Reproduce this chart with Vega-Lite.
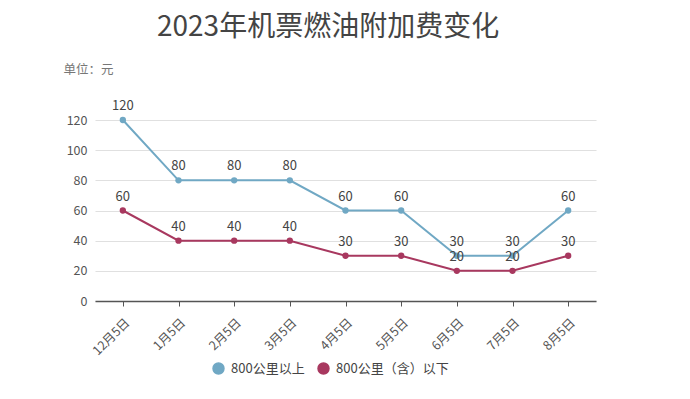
{
  "$schema": "https://vega.github.io/schema/vega-lite/v6.json",
  "autosize": "none",
  "width": 501,
  "height": 181,
  "padding": {"left": 95, "top": 120, "right": 94, "bottom": 98},
  "background": "white",
  "config": {
    "font": "Noto Sans CJK SC",
    "view": {"stroke": null}
  },
  "title": {
    "text": "2023年机票燃油附加费变化",
    "anchor": "start",
    "frame": "group",
    "dx": 62,
    "offset": 21,
    "fontSize": 28,
    "fontWeight": "normal",
    "color": "#444444",
    "font": "Noto Sans CJK SC"
  },
  "data": {
    "values": [
      {"date": "12月5日", "series": "800公里以上", "value": 120},
      {"date": "1月5日", "series": "800公里以上", "value": 80},
      {"date": "2月5日", "series": "800公里以上", "value": 80},
      {"date": "3月5日", "series": "800公里以上", "value": 80},
      {"date": "4月5日", "series": "800公里以上", "value": 60},
      {"date": "5月5日", "series": "800公里以上", "value": 60},
      {"date": "6月5日", "series": "800公里以上", "value": 30},
      {"date": "7月5日", "series": "800公里以上", "value": 30},
      {"date": "8月5日", "series": "800公里以上", "value": 60},
      {"date": "12月5日", "series": "800公里（含）以下", "value": 60},
      {"date": "1月5日", "series": "800公里（含）以下", "value": 40},
      {"date": "2月5日", "series": "800公里（含）以下", "value": 40},
      {"date": "3月5日", "series": "800公里（含）以下", "value": 40},
      {"date": "4月5日", "series": "800公里（含）以下", "value": 30},
      {"date": "5月5日", "series": "800公里（含）以下", "value": 30},
      {"date": "6月5日", "series": "800公里（含）以下", "value": 20},
      {"date": "7月5日", "series": "800公里（含）以下", "value": 20},
      {"date": "8月5日", "series": "800公里（含）以下", "value": 30}
    ]
  },
  "encoding": {
    "x": {
      "field": "date",
      "type": "ordinal",
      "sort": null,
      "scale": {"type": "point", "padding": 0.5},
      "axis": {
        "title": null,
        "labelAngle": -45,
        "labelFontSize": 12.5,
        "labelColor": "#555555",
        "domainColor": "#555555",
        "domainWidth": 1.5,
        "tickColor": "#555555",
        "tickSize": 5,
        "labelPadding": 10,
        "grid": false
      }
    },
    "y": {
      "field": "value",
      "type": "quantitative",
      "scale": {"domain": [0, 120], "nice": false},
      "axis": {
        "values": [0, 20, 40, 60, 80, 100, 120],
        "title": "单位：元",
        "titleAngle": 0,
        "titleAlign": "left",
        "titleBaseline": "middle",
        "titleX": -32,
        "titleY": -51,
        "titleFontSize": 12.5,
        "titleFontWeight": "normal",
        "titleColor": "#777777",
        "domain": false,
        "ticks": false,
        "labelPadding": 8,
        "labelFontSize": 12.5,
        "labelColor": "#555555",
        "gridColor": "#e0e0e0",
        "gridWidth": 1.2
      }
    },
    "color": {
      "field": "series",
      "type": "nominal",
      "sort": null,
      "scale": {"domain": ["800公里以上", "800公里（含）以下"], "range": ["#70a8c4", "#a8385f"]},
      "legend": {
        "title": null,
        "orient": "none",
        "direction": "horizontal",
        "legendX": 117,
        "legendY": 242,
        "symbolType": "circle",
        "symbolSize": 120,
        "labelFontSize": 13,
        "labelColor": "#444444",
        "columnPadding": 10,
        "labelOffset": 6,
        "encode": {
          "symbols": {
            "update": {
              "fill": {"signal": "datum.value === '800公里以上' ? '#5aade3' : '#cc2a5a'"},
              "stroke": {"value": null}
            }
          }
        }
      }
    }
  },
  "layer": [
    {"mark": {"type": "line", "strokeWidth": 2}},
    {"mark": {"type": "point", "filled": true, "size": 40, "opacity": 1}},
    {
      "mark": {"type": "text", "dy": -14, "fontSize": 13, "color": "#444444"},
      "encoding": {"text": {"field": "value", "type": "quantitative"}, "color": {"value": "#444444"}}
    }
  ]
}
